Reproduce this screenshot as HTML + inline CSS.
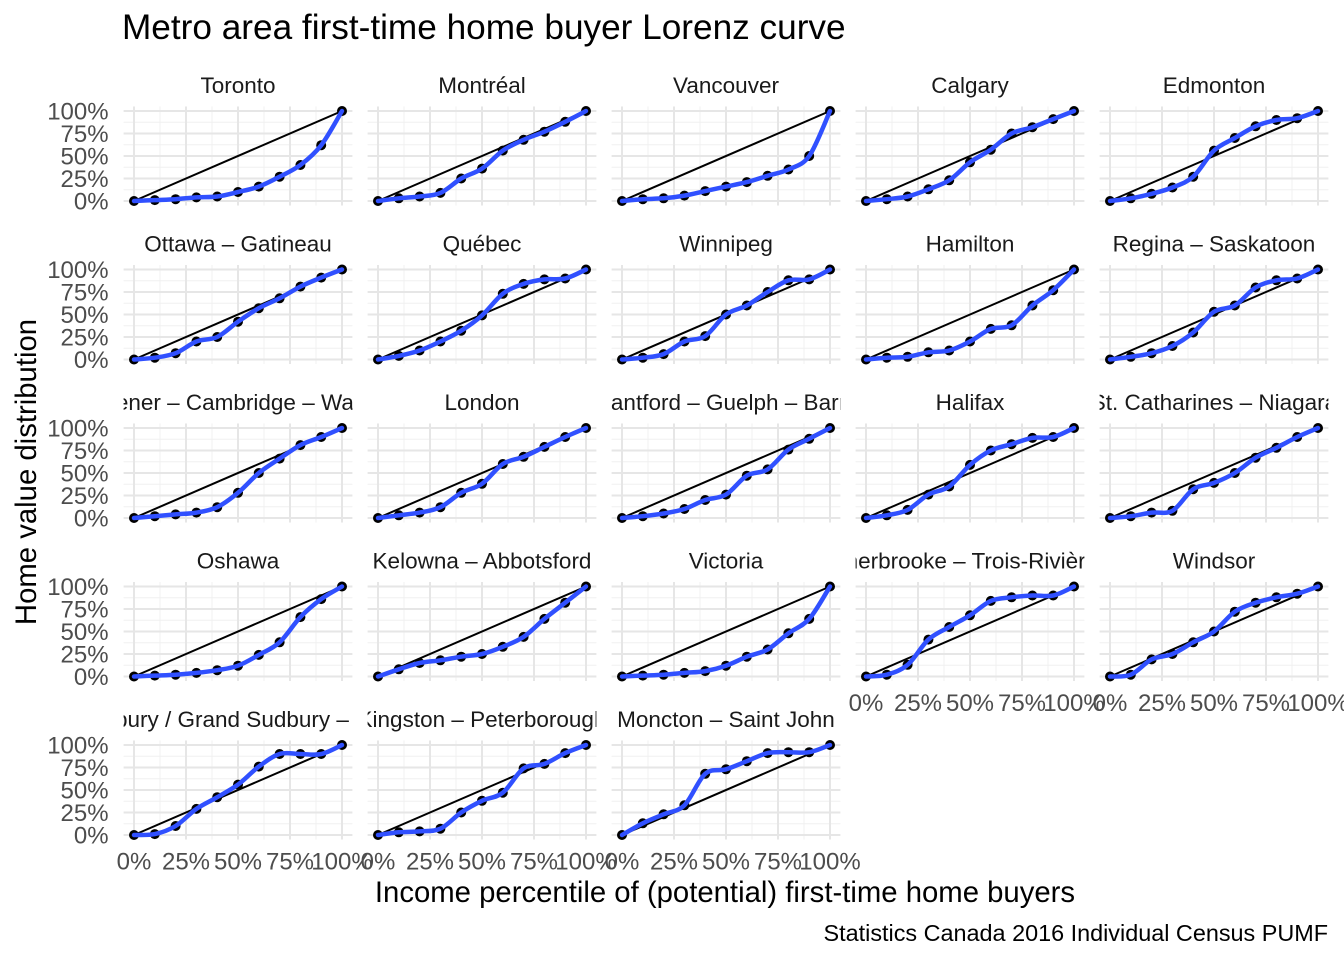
<!DOCTYPE html>
<html><head><meta charset="utf-8"><style>
html,body{margin:0;padding:0;background:#fff}
svg{display:block;font-family:"Liberation Sans","DejaVu Sans",sans-serif}
</style></head><body>
<svg id="chart" width="1344" height="960" viewBox="0 0 1344 960" xmlns="http://www.w3.org/2000/svg">
<text x="122" y="39" font-size="35.2" fill="#000">Metro area first-time home buyer Lorenz curve</text>
<text x="725" y="902" font-size="29.3" fill="#000" text-anchor="middle">Income percentile of (potential) first-time home buyers</text>
<text transform="translate(36,472) rotate(-90)" font-size="29.3" fill="#000" text-anchor="middle">Home value distribution</text>
<text x="1328" y="941" font-size="23.4" fill="#000" text-anchor="end">Statistics Canada 2016 Individual Census PUMF</text>
<g id="panels"></g>
</svg>
<script>
const metros = ["Toronto","Montréal","Vancouver","Calgary","Edmonton","Ottawa – Gatineau","Québec","Winnipeg","Hamilton","Regina – Saskatoon","Kitchener – Cambridge – Waterloo","London","Brantford – Guelph – Barrie","Halifax","St. Catharines – Niagara","Oshawa","Kelowna – Abbotsford","Victoria","Sherbrooke – Trois-Rivières","Windsor","Greater Sudbury / Grand Sudbury – Thunder Bay","Kingston – Peterborough","Moncton – Saint John"];
const percentiles = [0,10,20,30,40,50,60,70,80,90,100];
const xTicks = [0,25,50,75,100];
const xTickLabels = ["0%","25%","50%","75%","100%"];
const yTicks = [0,25,50,75,100];
const yTickLabels = ["0%","25%","50%","75%","100%"];
const toronto = [0,1,2,4,5,10,16,27,40,62,100];
const montreal = [0,3,5,9,25,36,56,68,77,88,100];
const vancouver = [0,2,3,6,11,16,21,28,35,50,100];
const calgary = [0,2,5,13,23,43,57,75,82,91,100];
const edmonton = [0,3,8,15,27,56,70,83,90,92,100];
const ottawa = [0,2,7,20,25,42,57,68,81,91,100];
const quebec = [0,4,10,20,32,49,73,84,89,90,100];
const winnipeg = [0,2,6,20,26,50,60,75,88,89,100];
const hamilton = [0,2,3,8,10,20,34,38,60,77,100];
const regina = [0,3,7,15,30,53,60,80,88,90,100];
const kitchener = [0,2,4,6,12,28,50,66,81,90,100];
const london = [0,3,6,12,28,38,60,68,79,90,100];
const brantford = [0,2,5,10,20,26,47,54,76,88,100];
const halifax = [0,3,9,26,35,59,75,82,89,90,100];
const stcatharines = [0,2,6,8,32,39,50,67,78,90,100];
const oshawa = [0,1,2,4,7,12,24,38,66,86,100];
const kelowna = [0,8,15,18,22,25,33,44,64,82,100];
const victoria = [0,1,2,4,6,12,22,30,48,64,100];
const sherbrooke = [0,2,13,41,55,68,84,88,90,90,100];
const windsor = [0,2,19,25,38,50,72,82,88,92,100];
const sudbury = [0,1,10,29,42,56,76,90,90,90,100];
const kingston = [0,3,4,7,25,38,47,74,79,91,100];
const moncton = [0,13,23,33,68,73,82,91,92,92,100];
const series = [toronto,montreal,vancouver,calgary,edmonton,ottawa,quebec,winnipeg,hamilton,regina,kitchener,london,brantford,halifax,stcatharines,oshawa,kelowna,victoria,sherbrooke,windsor,sudbury,kingston,moncton];

const NS="http://www.w3.org/2000/svg";
const root=document.getElementById('panels');
function mk(tag,attrs,parent){const e=document.createElementNS(NS,tag);for(const k in attrs)e.setAttribute(k,attrs[k]);(parent||root).appendChild(e);return e;}
const X0=134, COLW=244, DW=208, Y100=111, ROWH=158.5, DH=90, EXP=10.4;
metros.forEach((name,i)=>{
  const c=i%5, r=Math.floor(i/5);
  const ox=X0+c*COLW, top=Y100+r*ROWH, base=top+DH;
  const sx=v=>ox+v/100*DW, sy=v=>base-v/100*DH;
  const L=ox-EXP, R=ox+DW+EXP, T=top-4.5, B=base+4.5;
  const g=mk('g',{});
  
  
  const cp=mk('clipPath',{id:'cp'+i},g);
  mk('rect',{x:L,y:top-44,width:R-L,height:34},cp);
  const st=mk('text',{x:(L+R)/2,y:top-18,'font-size':22.5,fill:'#1a1a1a','text-anchor':'middle','clip-path':'url(#cp'+i+')'},g);
  st.textContent=name;
  
  
  for(let v=12.5;v<100;v+=25){
    mk('line',{x1:sx(v),x2:sx(v),y1:T,y2:B,stroke:'#f0f0f0','stroke-width':1},g);
    mk('line',{x1:L,x2:R,y1:sy(v),y2:sy(v),stroke:'#f0f0f0','stroke-width':1},g);
  }
  xTicks.forEach(v=>mk('line',{x1:sx(v),x2:sx(v),y1:T,y2:B,stroke:'#e6e6e6','stroke-width':2},g));
  yTicks.forEach(v=>mk('line',{x1:L,x2:R,y1:sy(v),y2:sy(v),stroke:'#e6e6e6','stroke-width':2},g));
  if(c===0) yTicks.forEach((v,k)=>{const t=mk('text',{x:L-15,y:sy(v)+8.5,'font-size':24,fill:'#4d4d4d','text-anchor':'end'},g);t.textContent=yTickLabels[k];});
  const showX = (r===4) || (r===3 && c>=3);
  if(showX) xTicks.forEach((v,k)=>{const t=mk('text',{x:sx(v),y:B+30,'font-size':24,fill:'#4d4d4d','text-anchor':'middle'},g);t.textContent=xTickLabels[k];});
  const eq=mk('line',{x1:sx(0),y1:sy(0),x2:sx(100),y2:sy(100),stroke:'#000','stroke-width':2},g);
  
  
  const d=series[i];
  d.forEach((v,k)=>{const p=mk('circle',{cx:sx(percentiles[k]),cy:sy(v),r:5,fill:'#000'},g);
    
    });
  const pts=d.map((v,k)=>[sx(percentiles[k]),sy(v)]);
  let path='M'+pts[0][0]+','+pts[0][1];
  for(let k=0;k<pts.length-1;k++){
    const p0=pts[Math.max(k-1,0)],p1=pts[k],p2=pts[k+1],p3=pts[Math.min(k+2,pts.length-1)];
    const c1=[p1[0]+(p2[0]-p0[0])/6,p1[1]+(p2[1]-p0[1])/6], c2=[p2[0]-(p3[0]-p1[0])/6,p2[1]-(p3[1]-p1[1])/6];
    path+=' C'+c1+' '+c2+' '+p2;
  }
  const ln=mk('path',{d:path,fill:'none',stroke:'#3050ff','stroke-width':4.5,'stroke-linejoin':'round','stroke-linecap':'round'},g);
  
  
});
</script>
</body></html>
